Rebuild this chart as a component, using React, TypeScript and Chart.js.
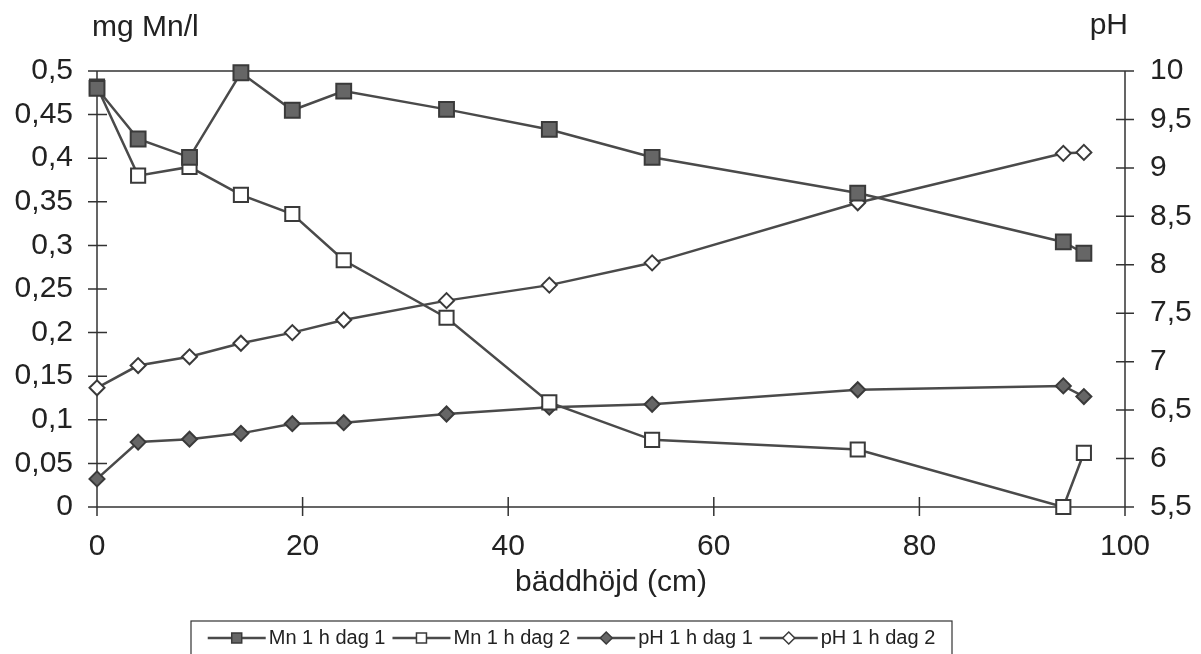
import React, { useEffect, useRef } from "react";
import { Chart, registerables } from "chart.js";

Chart.register(...registerables);

const heights = [0, 4, 9, 14, 19, 24, 34, 44, 54, 74, 94, 96];
const mnDag1 = [0.48, 0.422, 0.401, 0.498, 0.455, 0.477, 0.456, 0.433, 0.401, 0.36, 0.304, 0.291];
const mnDag2 = [0.482, 0.38, 0.39, 0.358, 0.336, 0.283, 0.217, 0.12, 0.077, 0.066, 0.0, 0.062];
const phDag1 = [5.79, 6.17, 6.2, 6.26, 6.36, 6.37, 6.46, 6.53, 6.56, 6.71, 6.75, 6.64];
const phDag2 = [6.73, 6.96, 7.05, 7.19, 7.3, 7.43, 7.63, 7.79, 8.02, 8.64, 9.15, 9.16];
const seriesNames = ["Mn 1 h dag 1", "Mn 1 h dag 2", "pH 1 h dag 1", "pH 1 h dag 2"];
const leftTitle = "mg Mn/l";
const rightTitle = "pH";
const xTitle = "bäddhöjd (cm)";

const FONT = "'Liberation Sans', Arial, sans-serif";
const LINE = "#4a4a4a";
const AXIS = "#333333";
const TEXT = "#222222";

const fmt = (v: number) => String(Math.round(v * 100) / 100).replace(".", ",");

const pts = (ys: number[]) => heights.map((x, i) => ({ x, y: ys[i] }));

const framePlugin = {
  id: "frame",
  beforeDatasetsDraw(chart: any) {
    const { ctx, chartArea: a, scales } = chart;
    ctx.save();
    ctx.strokeStyle = AXIS;
    ctx.lineWidth = 1.5;
    ctx.beginPath();
    ctx.moveTo(a.left - 9, a.top);
    ctx.lineTo(a.right, a.top);
    ctx.moveTo(a.left, a.top);
    ctx.lineTo(a.left, a.bottom + 9);
    ctx.moveTo(a.right, a.top);
    ctx.lineTo(a.right, a.bottom + 9);
    ctx.moveTo(a.left - 9, a.bottom);
    ctx.lineTo(a.right + 9, a.bottom);
    for (const t of scales.y.ticks) {
      const p = scales.y.getPixelForValue(t.value);
      ctx.moveTo(a.left - 9, p);
      ctx.lineTo(a.left + 10, p);
    }
    for (const t of scales.y2.ticks) {
      const p = scales.y2.getPixelForValue(t.value);
      ctx.moveTo(a.right - 9, p);
      ctx.lineTo(a.right + 9, p);
    }
    for (const t of scales.x.ticks) {
      const p = scales.x.getPixelForValue(t.value);
      ctx.moveTo(p, a.bottom - 10);
      ctx.lineTo(p, a.bottom + 9);
    }
    ctx.stroke();
    ctx.restore();
  },
  afterDraw(chart: any) {
    const { ctx, chartArea: a } = chart;
    ctx.save();
    ctx.fillStyle = TEXT;
    ctx.font = `30px ${FONT}`;
    ctx.textBaseline = "alphabetic";
    ctx.textAlign = "left";
    ctx.fillText(leftTitle, a.left - 5, 36);
    ctx.textAlign = "right";
    ctx.fillText(rightTitle, a.right + 3, 34);
    ctx.textAlign = "center";
    ctx.textBaseline = "middle";
    ctx.fillText(xTitle, (a.left + a.right) / 2, 583);

    // legend
    const boxL = 191, boxR = 952, boxT = 621;
    ctx.strokeStyle = AXIS;
    ctx.lineWidth = 1.2;
    ctx.strokeRect(boxL, boxT, boxR - boxL, 60);
    ctx.font = `20px ${FONT}`;
    ctx.textAlign = "left";
    ctx.textBaseline = "middle";
    const cy = 638;
    const sampleW = 58;
    const gapText = 3;
    const gapItem = 7;
    const widths = chart.data.datasets.map((d: any) => ctx.measureText(d.label).width);
    const total = widths.reduce((s: number, w: number) => s + w, 0) + 4 * (sampleW + gapText) + 3 * gapItem;
    let x = (boxL + boxR) / 2 - total / 2;
    chart.data.datasets.forEach((d: any, i: number) => {
      ctx.strokeStyle = LINE;
      ctx.lineWidth = 2.5;
      ctx.beginPath();
      ctx.moveTo(x, cy);
      ctx.lineTo(x + sampleW, cy);
      ctx.stroke();
      const mx = x + sampleW / 2;
      ctx.fillStyle = d.pointBackgroundColor;
      ctx.strokeStyle = d.pointBorderColor;
      ctx.lineWidth = 1.5;
      ctx.beginPath();
      if (d.pointStyle === "rect") {
        ctx.rect(mx - 5, cy - 5, 10, 10);
      } else {
        ctx.moveTo(mx, cy - 6);
        ctx.lineTo(mx + 6, cy);
        ctx.lineTo(mx, cy + 6);
        ctx.lineTo(mx - 6, cy);
        ctx.closePath();
      }
      ctx.fill();
      ctx.stroke();
      ctx.fillStyle = TEXT;
      ctx.fillText(d.label, x + sampleW + gapText, cy);
      x += sampleW + gapText + widths[i] + gapItem;
    });
    ctx.restore();
  },
};

export default function App() {
  const ref = useRef<HTMLCanvasElement>(null);
  useEffect(() => {
    if (!ref.current) return;
    const common = {
      borderColor: LINE,
      borderWidth: 2.5,
      pointBorderColor: "#3a3a3a",
      pointBorderWidth: 2,
      clip: false,
      tension: 0,
    };
    const chart = new Chart(ref.current, {
      type: "line",
      data: {
        datasets: [
          { ...common, label: seriesNames[0], data: pts(mnDag1), yAxisID: "y", pointStyle: "rect", pointRadius: 10.5, pointBackgroundColor: "#666666" },
          { ...common, label: seriesNames[1], data: pts(mnDag2), yAxisID: "y", pointStyle: "rect", pointRadius: 10, pointBackgroundColor: "#ffffff" },
          { ...common, label: seriesNames[2], data: pts(phDag1), yAxisID: "y2", pointStyle: "rectRot", pointRadius: 7.5, pointBackgroundColor: "#666666" },
          { ...common, label: seriesNames[3], data: pts(phDag2), yAxisID: "y2", pointStyle: "rectRot", pointRadius: 7.5, pointBackgroundColor: "#ffffff" },
        ] as any,
      },
      options: {
        responsive: false,
        animation: false,
        layout: { padding: { top: 71, left: 0, right: 0, bottom: 0 } },
        plugins: { legend: { display: false }, tooltip: { enabled: false } },
        scales: {
          x: {
            type: "linear",
            min: 0,
            max: 100,
            ticks: { stepSize: 20, font: { size: 30, family: FONT }, color: TEXT, padding: 22, maxRotation: 0 },
            grid: { display: false, drawTicks: false },
            border: { display: false },
            afterFit: (s: any) => { s.height = 147; },
          },
          y: {
            type: "linear",
            position: "left",
            min: 0,
            max: 0.5,
            ticks: { stepSize: 0.05, font: { size: 30, family: FONT }, color: TEXT, padding: 24, callback: (v: any) => fmt(Number(v)) },
            grid: { display: false, drawTicks: false },
            border: { display: false },
            afterFit: (s: any) => { s.width = 97; },
          },
          y2: {
            type: "linear",
            position: "right",
            min: 5.5,
            max: 10,
            ticks: { stepSize: 0.5, font: { size: 30, family: FONT }, color: TEXT, padding: 25, callback: (v: any) => fmt(Number(v)) },
            grid: { display: false, drawTicks: false },
            border: { display: false },
            afterFit: (s: any) => { s.width = 76; },
          },
        },
      },
      plugins: [framePlugin],
    });
    return () => chart.destroy();
  }, []);
  return (
    <div style={{ position: "absolute", left: 0, top: 0, width: 1201, height: 654, background: "#fff" }}>
      <canvas ref={ref} width={1201} height={654} />
    </div>
  );
}
